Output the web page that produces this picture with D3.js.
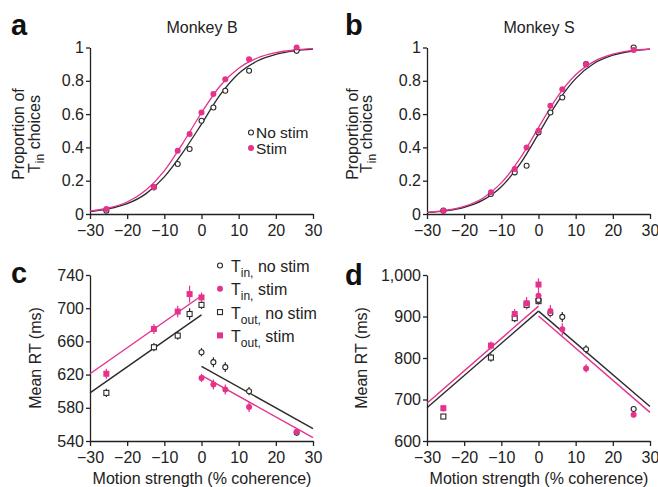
<!DOCTYPE html>
<html>
<head>
<meta charset="utf-8">
<script src="https://cdn.jsdelivr.net/npm/d3@7"></script>
<style>
  body { margin: 0; background: #fff; }
  text { font-family: "Liberation Sans", Arial, sans-serif; fill: #222; }
  .axis path, .axis line { stroke: #222; stroke-width: 1.3; }
  .axis text { font-size: 16px; fill: #222; }
</style>
</head>
<body>
<svg id="chart" width="658" height="487"></svg>
<script>
var PINK = "#e5328c";
var DARK = "#2a2a2a";

// coherence levels (%)
var coh = [-25.6, -12.8, -6.4, -3.2, 0, 3.2, 6.4, 12.8, 25.6];
var cohLeft = [-25.6, -12.8, -6.4, -3.2, 0];
var cohRight = [0, 3.2, 6.4, 12.8, 25.6];
var xTicks = [-30, -20, -10, 0, 10, 20, 30];

// panel a: Monkey B, proportion Tin choices
var aNoStim = [0.02, 0.16, 0.30, 0.39, 0.56, 0.64, 0.74, 0.86, 0.98];
var aStim = [0.03, 0.16, 0.38, 0.48, 0.61, 0.72, 0.81, 0.93, 1.0];
// fitted curves
var fitX = [-30, -25, -20, -15, -10, -5, 0, 5, 10, 15, 20, 25, 30];
var aFitNoStim = [0.015, 0.031, 0.062, 0.121, 0.223, 0.370, 0.54, 0.715, 0.844, 0.919, 0.959, 0.980, 0.990];
var aFitStim = [0.017, 0.036, 0.072, 0.142, 0.259, 0.426, 0.608, 0.769, 0.875, 0.937, 0.969, 0.985, 0.993];

// panel b: Monkey S
var bNoStim = [0.02, 0.12, 0.25, 0.29, 0.49, 0.61, 0.70, 0.90, 1.0];
var bStim = [0.02, 0.13, 0.27, 0.40, 0.50, 0.65, 0.75, 0.90, 0.985];
var bFitNoStim = [0.009, 0.019, 0.040, 0.083, 0.164, 0.299, 0.481, 0.668, 0.813, 0.905, 0.954, 0.978, 0.990];
var bFitStim = [0.010, 0.022, 0.046, 0.095, 0.187, 0.332, 0.519, 0.701, 0.836, 0.917, 0.960, 0.981, 0.991];
var pTicks = [0, 0.2, 0.4, 0.6, 0.8, 1];

// panel c: Monkey B mean RT (ms)
var cToutNoStim = [598, 653, 667, 693, 704];
var cToutNoStimErr = [5, 5, 5, 7, 5];
var cToutStim = [621, 675, 696, 717, 713];
var cToutStimErr = [6, 6, 7, 10, 6];
var cTinNoStim = [647, 635, 629, 600, 550];
var cTinNoStimErr = [5, 6, 6, 5, 4];
var cTinStim = [616, 608, 602, 581, 551];
var cTinStimErr = [5, 6, 6, 6, 4];
// regression lines [x, rt] end points
var cLineNoStimL = [[-30, 598], [0, 692]];
var cLineStimL = [[-30, 621], [0, 715]];
var cLineNoStimR = [[0, 630], [30, 555]];
var cLineStimR = [[0, 619], [30, 544]];
var cTicks = [540, 580, 620, 660, 700, 740];

// panel d: Monkey S mean RT (ms)
var dToutNoStim = [659, 801, 896, 928, 937];
var dToutNoStimErr = [5, 10, 10, 10, 8];
var dToutStim = [679, 830, 906, 932, 977];
var dToutStimErr = [8, 10, 12, 15, 15];
var dTinNoStim = [940, 908, 899, 821, 677];
var dTinNoStimErr = [8, 10, 12, 10, 6];
var dTinStim = [950, 913, 869, 775, 663];
var dTinStimErr = [12, 15, 15, 10, 6];
var dLineNoStimL = [[-30, 680], [0, 913]];
var dLineStimL = [[-30, 691], [0, 925]];
var dLineNoStimR = [[0, 913], [30, 683]];
var dLineStimR = [[0, 901], [30, 669]];
var dTicks = [600, 700, 800, 900, 1000];

var svg = d3.select("#chart");

function makePanel(opt) {
  var x = d3.scaleLinear().domain([-30, 30]).range([opt.left, opt.right]);
  var y = d3.scaleLinear().domain(opt.yDomain).range([opt.bottom, opt.top]);
  var g = svg.append("g");

  g.append("g").attr("class", "axis")
    .attr("transform", "translate(0," + opt.bottom + ")")
    .call(d3.axisBottom(x).tickValues(xTicks).tickSize(5).tickSizeOuter(0).tickPadding(6)
      .tickFormat(d => d < 0 ? "\u2212" + Math.abs(d) : d));
  g.append("g").attr("class", "axis")
    .attr("transform", "translate(" + opt.left + ",0)")
    .call(d3.axisLeft(y).tickValues(opt.yTicks).tickSize(4).tickSizeOuter(0).tickPadding(2)
      .tickFormat(opt.fmt));

  return { g: g, x: x, y: y };
}

function curve(p, xs, ys, color) {
  var line = d3.line().x(d => p.x(d[0])).y(d => p.y(d[1])).curve(d3.curveMonotoneX);
  p.g.append("path").datum(xs.map((v, i) => [v, ys[i]]))
    .attr("d", line).attr("fill", "none").attr("stroke", color).attr("stroke-width", 1.3);
}

function seg(p, pts, color) {
  var line = d3.line().x(d => p.x(d[0])).y(d => p.y(d[1]));
  p.g.append("path").datum(pts).attr("d", line)
    .attr("fill", "none").attr("stroke", color).attr("stroke-width", 1.4);
}

function errs(p, xs, ys, es, color) {
  p.g.selectAll(null).data(xs.map((v, i) => [v, ys[i], es[i]])).enter()
    .append("line")
    .attr("x1", d => p.x(d[0])).attr("x2", d => p.x(d[0]))
    .attr("y1", d => p.y(d[1] - d[2])).attr("y2", d => p.y(d[1] + d[2]))
    .attr("stroke", color).attr("stroke-width", 1.2);
}

function circles(p, xs, ys, filled) {
  p.g.selectAll(null).data(xs.map((v, i) => [v, ys[i]])).enter()
    .append("circle")
    .attr("cx", d => p.x(d[0])).attr("cy", d => p.y(d[1]))
    .attr("r", filled ? 3 : 2.5)
    .attr("fill", filled ? PINK : "#fff")
    .attr("stroke", filled ? "none" : DARK)
    .attr("stroke-width", 1.1);
}

function squares(p, xs, ys, filled) {
  var s = filled ? 6 : 5;
  p.g.selectAll(null).data(xs.map((v, i) => [v, ys[i]])).enter()
    .append("rect")
    .attr("x", d => p.x(d[0]) - s / 2).attr("y", d => p.y(d[1]) - s / 2)
    .attr("width", s).attr("height", s)
    .attr("fill", filled ? PINK : "#fff")
    .attr("stroke", filled ? "none" : DARK)
    .attr("stroke-width", 1.1);
}

function letter(t, x, yy) {
  svg.append("text").attr("x", x).attr("y", yy).text(t)
    .attr("font-size", 29).attr("font-weight", "bold").style("fill", "#111");
}

function ylabelProp(cx, gap) {
  var gl = svg.append("g").attr("transform", "translate(" + cx + ",134) rotate(-90)");
  gl.append("text").attr("x", 0).attr("y", -gap).attr("text-anchor", "middle")
    .attr("font-size", 16).text("Proportion of");
  var t = gl.append("text").attr("x", 0).attr("y", gap).attr("text-anchor", "middle")
    .attr("font-size", 16);
  t.append("tspan").text("T");
  t.append("tspan").attr("font-size", 12).attr("dy", 4).text("in");
  t.append("tspan").attr("dy", -4).text(" choices");
}

function ylabelRT(cx) {
  svg.append("text").attr("transform", "translate(" + cx + ",358) rotate(-90)")
    .attr("text-anchor", "middle").attr("font-size", 16).text("Mean RT (ms)");
}

function xlabel(cx) {
  svg.append("text").attr("x", cx).attr("y", 484).attr("text-anchor", "middle")
    .attr("font-size", 16).text("Motion strength (% coherence)");
}

// ---- panel a
var pa = makePanel({ left: 90, right: 313, top: 47.5, bottom: 214, yDomain: [0, 1], yTicks: pTicks, fmt: d => d });
curve(pa, fitX, aFitNoStim, DARK);
curve(pa, fitX, aFitStim, PINK);
circles(pa, coh, aNoStim, false);
circles(pa, coh, aStim, true);
letter("a", 11, 35);
svg.append("text").attr("x", 202).attr("y", 33).attr("text-anchor", "middle").attr("font-size", 16).text("Monkey B");
ylabelProp(32, 8);
svg.append("circle").attr("cx", 251).attr("cy", 132.5).attr("r", 2.5).attr("fill", "#fff").attr("stroke", DARK).attr("stroke-width", 1.1);
svg.append("text").attr("x", 256).attr("y", 138).attr("font-size", 15.5).text("No stim");
svg.append("circle").attr("cx", 251).attr("cy", 148).attr("r", 3).attr("fill", PINK);
svg.append("text").attr("x", 256).attr("y", 153.5).attr("font-size", 15.5).text("Stim");

// ---- panel b
var pb = makePanel({ left: 427, right: 650, top: 47.5, bottom: 214, yDomain: [0, 1], yTicks: pTicks, fmt: d => d });
curve(pb, fitX, bFitNoStim, DARK);
curve(pb, fitX, bFitStim, PINK);
circles(pb, coh, bNoStim, false);
circles(pb, coh, bStim, true);
letter("b", 345, 35);
svg.append("text").attr("x", 539).attr("y", 33).attr("text-anchor", "middle").attr("font-size", 16).text("Monkey S");
ylabelProp(365, 7);

// ---- panel c
var pc = makePanel({ left: 90, right: 313, top: 275, bottom: 441, yDomain: [540, 740], yTicks: cTicks, fmt: d => d });
seg(pc, cLineNoStimL, DARK);
seg(pc, cLineStimL, PINK);
seg(pc, cLineNoStimR, DARK);
seg(pc, cLineStimR, PINK);
errs(pc, cohLeft, cToutNoStim, cToutNoStimErr, DARK);
errs(pc, cohLeft, cToutStim, cToutStimErr, PINK);
errs(pc, cohRight, cTinNoStim, cTinNoStimErr, DARK);
errs(pc, cohRight, cTinStim, cTinStimErr, PINK);
squares(pc, cohLeft, cToutNoStim, false);
squares(pc, cohLeft, cToutStim, true);
circles(pc, cohRight, cTinNoStim, false);
circles(pc, cohRight, cTinStim, true);
letter("c", 11, 283);
ylabelRT(41);
xlabel(202);

// legend c
var legItems = [
  { sub: "in", rest: " no stim", shape: "circle", filled: false },
  { sub: "in", rest: " stim", shape: "circle", filled: true },
  { sub: "out", rest: " no stim", shape: "square", filled: false },
  { sub: "out", rest: " stim", shape: "square", filled: true }
];
legItems.forEach(function (d, i) {
  var base = 272 + i * 23.3;
  var cy = base - 6.5;
  if (d.shape === "circle") {
    svg.append("circle").attr("cx", 220).attr("cy", cy).attr("r", d.filled ? 3 : 2.5)
      .attr("fill", d.filled ? PINK : "#fff").attr("stroke", d.filled ? "none" : DARK).attr("stroke-width", 1.1);
  } else {
    var s = d.filled ? 6 : 5;
    svg.append("rect").attr("x", 220 - s / 2).attr("y", cy - s / 2).attr("width", s).attr("height", s)
      .attr("fill", d.filled ? PINK : "#fff").attr("stroke", d.filled ? "none" : DARK).attr("stroke-width", 1.1);
  }
  var t = svg.append("text").attr("x", 231).attr("y", base).attr("font-size", 16);
  t.append("tspan").text("T");
  t.append("tspan").attr("font-size", 12).attr("dy", 5).text(d.sub + ",");
  t.append("tspan").attr("dy", -5).text(d.rest);
});

// ---- panel d
var pd = makePanel({ left: 427, right: 650, top: 275, bottom: 441, yDomain: [600, 1000], yTicks: dTicks, fmt: d3.format(",") });
seg(pd, dLineNoStimL, DARK);
seg(pd, dLineStimL, PINK);
seg(pd, dLineNoStimR, DARK);
seg(pd, dLineStimR, PINK);
errs(pd, cohLeft, dToutNoStim, dToutNoStimErr, DARK);
errs(pd, cohRight, dTinNoStim, dTinNoStimErr, DARK);
errs(pd, cohLeft, dToutStim, dToutStimErr, PINK);
errs(pd, cohRight, dTinStim, dTinStimErr, PINK);
squares(pd, cohLeft, dToutNoStim, false);
circles(pd, cohRight, dTinNoStim, false);
squares(pd, cohLeft, dToutStim, true);
circles(pd, cohRight, dTinStim, true);
letter("d", 345, 285);
ylabelRT(367);
xlabel(539);
</script>
</body>
</html>
